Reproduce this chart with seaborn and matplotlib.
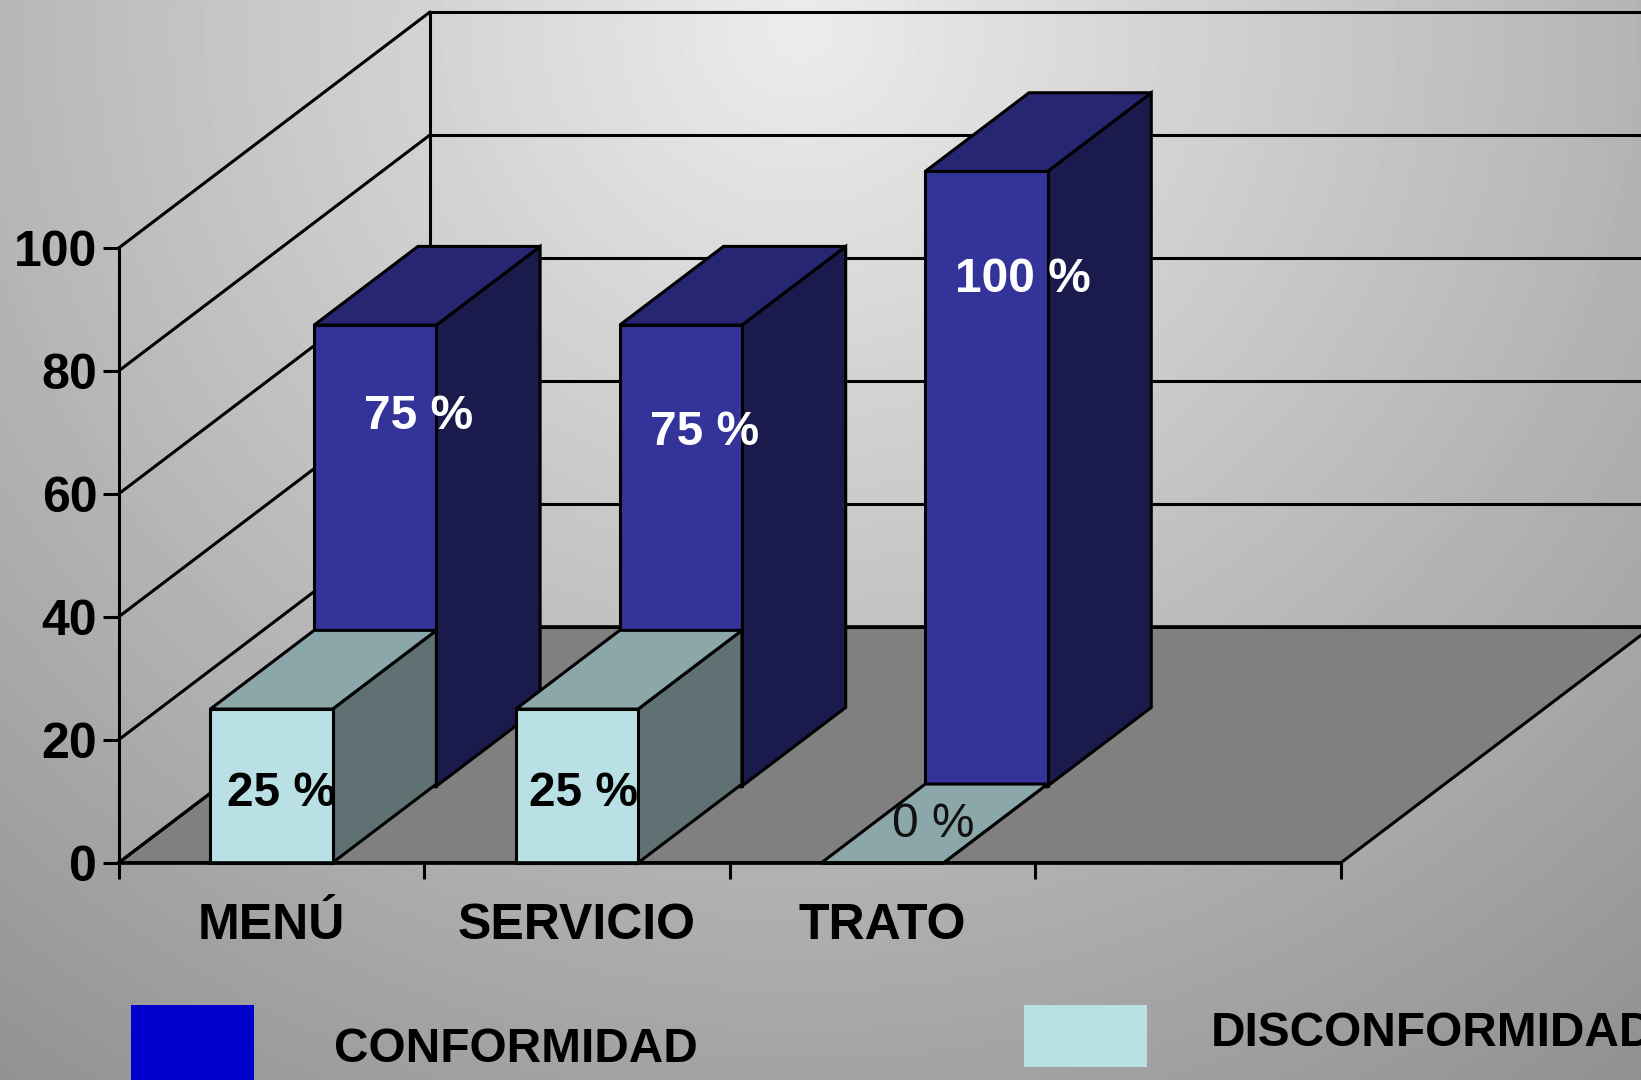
import numpy as np
import matplotlib
matplotlib.use("Agg")
import matplotlib.pyplot as plt
from matplotlib.patches import Polygon, Rectangle
import seaborn as sns

categories = ["MENÚ", "SERVICIO", "TRATO"]
conformidad = [75, 75, 100]
disconformidad = [25, 25, 0]
conformidad_labels = ["75 %", "75 %", "100 %"]
disconformidad_labels = ["25 %", "25 %", "0 %"]
y_ticks = [0, 20, 40, 60, 80, 100]
legend_names = ["CONFORMIDAD", "DISCONFORMIDAD"]

W, H = 1641, 1080
DEPTH_X = 311.3 / 305.6   # depth of the 3d box in x data units
DEPTH_Y = 236 / 6.147     # and in y data units
LW = 2.2

sns.set_theme(style="white")
plt.rcParams["font.family"] = ["Liberation Sans", "DejaVu Sans"]

fig = plt.figure(figsize=(W / 100, H / 100), dpi=100)

# grey background gradient, brightest near the top centre
bg = fig.add_axes([0, 0, 1, 1], zorder=-1)
yy, xx = np.mgrid[0:H, 0:W]
d = np.sqrt(((xx - 800) / 1200) ** 2 + ((yy - 30) / 1150) ** 2)
bg.imshow(236 - 80 * d, cmap="gray", vmin=0, vmax=255, aspect="auto")
bg.axis("off")

ax = fig.add_axes([118.7 / W, 1 - 862.7 / H, (1341 - 118.7) / W, (862.7 - 248) / H])
ax.patch.set_visible(False)


def project(x, y, depth):
    return x + depth * DEPTH_X, y + depth * DEPTH_Y


def draw_row(values, row, sink, front, side, top, labels, offsets, label_styles, z):
    n = len(ax.patches)
    sns.barplot(x=categories, y=values, width=0.4, color=front, saturation=1,
                edgecolor="black", linewidth=LW, ax=ax, zorder=z + 1)
    for bar, label, off, style in zip(ax.patches[n:n + len(values)], labels, offsets, label_styles):
        x0, x1 = bar.get_x(), bar.get_x() + bar.get_width()
        h = bar.get_height()
        px0, _ = project(x0, 0, row)
        px1, _ = project(x1, 0, row)
        _, py0 = project(0, -sink, row)
        bar.set_x(px0)
        bar.set_y(py0)
        bar.set_clip_on(False)
        r = row + 1 / 3
        sx, sy = project(x1, -sink, r)
        tx, ty = project(x0, -sink, r)
        ax.add_patch(Polygon([(px1, py0), (sx, sy), (sx, sy + h), (px1, py0 + h)], closed=True,
                             facecolor=side, edgecolor="black", lw=LW, clip_on=False, zorder=z))
        ax.add_patch(Polygon([(px0, py0 + h), (px1, py0 + h), (sx, sy + h), (tx, ty + h)], closed=True,
                             facecolor=top, edgecolor="black", lw=LW, clip_on=False, zorder=z))
        ax.annotate(label, xy=((px0 + px1) / 2, py0 + h), xytext=off, textcoords="offset pixels",
                    ha="center", va="center", fontsize=34.5, zorder=20, annotation_clip=False, **style)


# floor and walls
x_left, x_right = -0.5, 3.5
ax.add_patch(Polygon([(x_left, 0), (x_right, 0), project(x_right, 0, 1), project(x_left, 0, 1)], closed=True,
                     facecolor="#808080", edgecolor="black", lw=LW, clip_on=False, zorder=1))
for v in y_ticks:
    bx, by = project(x_left, v, 1)
    ex, _ = project(x_right, v, 1)
    ax.plot([x_left, bx], [v, by], color="black", lw=LW, clip_on=False, zorder=2)
    ax.plot([bx, ex], [by, by], color="black", lw=LW, clip_on=False, zorder=2)
bx0, by0 = project(x_left, 0, 1)
bx1, by1 = project(x_left, 100, 1)
ax.plot([bx0, bx1], [by0, by1], color="black", lw=LW, clip_on=False, zorder=2)

bold_white = dict(color="white", fontweight="bold")
bold_black = dict(color="black", fontweight="bold")
draw_row(conformidad, 1 / 3, 0.34, "#333399", "#1a1a4d", "#262673", conformidad_labels,
         [(43, -91), (24, -107), (36, -108)], [bold_white] * 3, 3)
draw_row(disconformidad, 0, 0, "#b9e0e4", "#5f7173", "#8ca7aa", disconformidad_labels,
         [(10, -84), (6, -84), (51, 38)], [bold_black, bold_black, dict(color="#111111")], 6)

ax.set_xlim(x_left, x_right)
ax.set_ylim(0, 100)
ax.set_xticks([-0.5, 0.5, 1.5, 2.5, 3.5])
ax.set_xticklabels([])
ax.set_xticks([0, 1, 2], minor=True)
ax.set_xticklabels(categories, minor=True, fontsize=36, fontweight="bold", color="black")
ax.set_yticks(y_ticks)
ax.set_yticklabels(y_ticks, fontsize=36, fontweight="bold", color="black")
ax.tick_params(axis="x", which="major", length=11.5, width=LW, color="black", bottom=True)
ax.tick_params(axis="x", which="minor", length=0, pad=29, bottom=True)
ax.tick_params(axis="y", length=11.5, width=LW, color="black", pad=4, left=True)
ax.set_xlabel("")
ax.set_ylabel("")
for name, spine in ax.spines.items():
    spine.set_visible(name in ("left", "bottom"))
    spine.set_color("black")
    spine.set_linewidth(LW)
    spine.set_zorder(12)
ax.spines["bottom"].set_linewidth(2.6)

# legend keys sit at fixed spots, the second one runs off the right edge
fig.add_artist(Rectangle((130.8 / W, 0), 123.2 / W, (H - 1005) / H, transform=fig.transFigure,
                         facecolor="#0000cc", edgecolor="none"))
fig.add_artist(Rectangle((1023.7 / W, 1 - 1067 / H), 123.3 / W, 62 / H, transform=fig.transFigure,
                         facecolor="#b9e0e4", edgecolor="none"))
fig.text(334 / W, 1 - 1050 / H, legend_names[0], fontsize=34.4, fontweight="bold", color="black", va="center")
fig.text(1211 / W, 1 - 1034 / H, legend_names[1], fontsize=34.4, fontweight="bold", color="black", va="center")

fig.savefig("out.png", dpi=100)
